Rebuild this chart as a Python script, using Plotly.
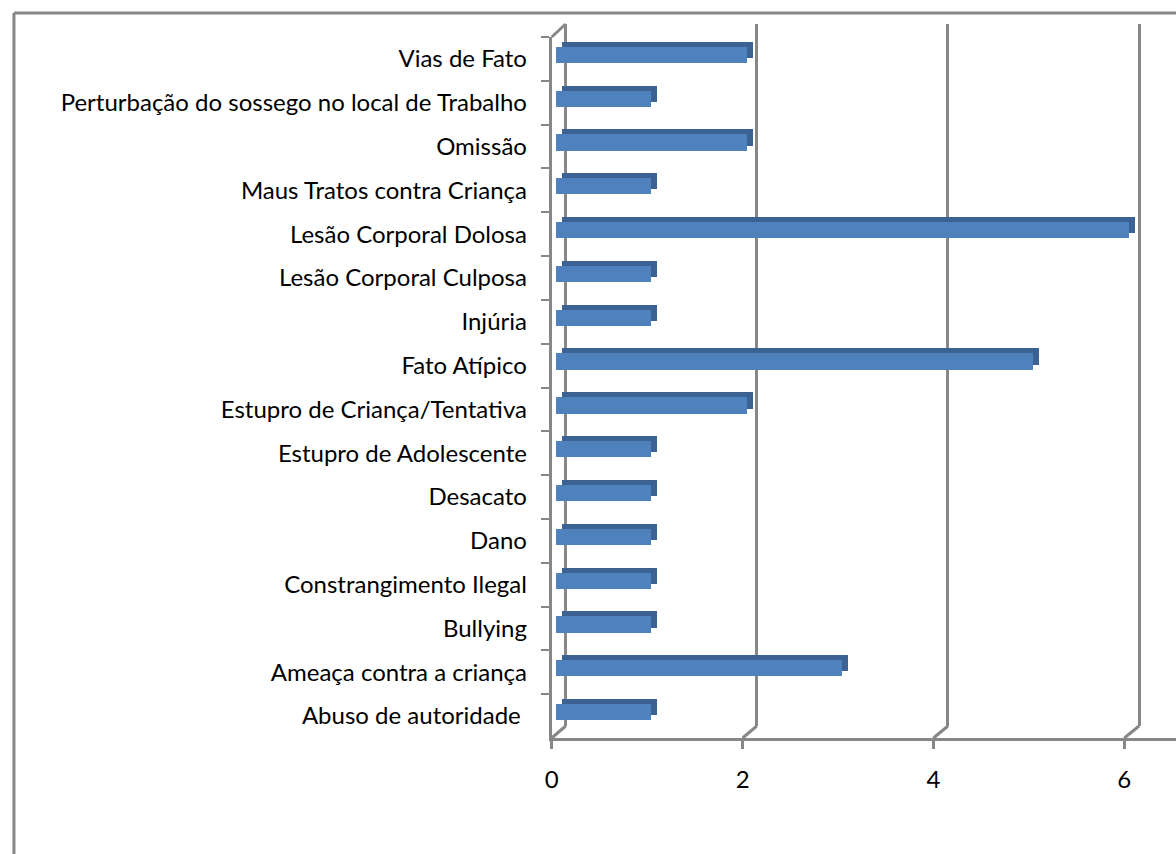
import plotly.graph_objects as go

categories = ["Abuso de autoridade ", "Ameaça contra a criança", "Bullying",
              "Constrangimento Ilegal", "Dano", "Desacato", "Estupro de Adolescente",
              "Estupro de Criança/Tentativa", "Fato Atípico", "Injúria",
              "Lesão Corporal Culposa", "Lesão Corporal Dolosa",
              "Maus Tratos contra Criança", "Omissão",
              "Perturbação do sossego no local de Trabalho", "Vias de Fato"]
values = [1, 3, 1, 1, 1, 1, 1, 2, 5, 1, 1, 6, 1, 2, 1, 2]
x_ticks = [0, 2, 4, 6]

W, H = 1176, 854
def px(x): return x / W
def py(y): return 1 - y / H

UNIT = 96.0          # pixels per value unit
GRID = "#878787"
FONT = dict(family="Lato", size=24, color="black")
n = len(categories)

fig = go.Figure()

# back wall (gridlines)
bw_x0 = 562
fig.add_trace(go.Scatter(x=[0], y=[0], xaxis="x", yaxis="y", opacity=0,
                         showlegend=False, hoverinfo="skip"))
# bar shadow (top + side faces)
fig.add_trace(go.Bar(y=categories, x=values, orientation="h", xaxis="x2", yaxis="y2",
                     marker=dict(color="#3b6293", line=dict(width=0)), width=0.37,
                     showlegend=False, hoverinfo="skip"))
# bar front faces
fig.add_trace(go.Bar(y=categories, x=values, orientation="h", xaxis="x3", yaxis="y3",
                     marker=dict(color="#4f81bd", line=dict(width=0)), width=0.37,
                     showlegend=False))
# front axes
fig.add_trace(go.Scatter(y=categories, x=[0] * n, xaxis="x4", yaxis="y4", opacity=0,
                         mode="markers", showlegend=False, hoverinfo="skip"))

pad = 0.1
common_hidden = dict(showgrid=False, zeroline=False, showticklabels=False, showline=False,
                     ticks="", fixedrange=True)

layout = dict(
    width=W, height=H, margin=dict(l=0, r=0, t=0, b=0),
    paper_bgcolor="white", plot_bgcolor="rgba(0,0,0,0)",
    bargap=0, showlegend=False,
    xaxis=dict(domain=[px(bw_x0 - pad * 96.15), 1], range=[-pad, (W - bw_x0) / 96.15],
               showgrid=True, gridcolor=GRID, gridwidth=3, tickvals=x_ticks,
               zeroline=False, showticklabels=False, showline=False, ticks=""),
    yaxis=dict(domain=[py(726), py(24)], range=[0, 1], **common_hidden),
    xaxis2=dict(domain=[px(558), 1], range=[0, (W - 558) / UNIT], anchor="y2", **common_hidden),
    yaxis2=dict(domain=[py(729), py(28)], range=[-0.5, n - 0.5], anchor="x2",
                categoryorder="array", categoryarray=categories, type="category", **common_hidden),
    xaxis3=dict(domain=[px(552), 1], range=[0, (W - 552) / UNIT], anchor="y3", **common_hidden),
    yaxis3=dict(domain=[py(734), py(33)], range=[-0.5, n - 0.5], anchor="x3",
                categoryorder="array", categoryarray=categories, type="category", **common_hidden),
    xaxis4=dict(domain=[px(548), 1], range=[0, (W - 548) / UNIT], anchor="y4",
                showgrid=False, zeroline=False, showline=True, linecolor=GRID, linewidth=3,
                ticks="outside", ticklen=8, tickwidth=3, tickcolor=GRID,
                tickvals=x_ticks, ticktext=[str(v) for v in x_ticks], tickfont=FONT,
                ticklabelstandoff=10, fixedrange=True),
    yaxis4=dict(domain=[py(738), py(37)], range=[-0.5, n - 0.5], anchor="x4",
                categoryorder="array", categoryarray=categories, type="category",
                showgrid=False, zeroline=False, showline=True, linecolor=GRID, linewidth=3,
                ticks="outside", ticklen=8, tickwidth=2, tickcolor=GRID,
                tickson="boundaries", tickfont=FONT, ticklabelstandoff=17, fixedrange=True),
)
fig.update_layout(**layout)

shapes = []
# floor diagonals from front ticks to back gridlines
for v in x_ticks:
    fx = 548 + v * UNIT
    bx = bw_x0 + v * 96.15
    shapes.append(dict(type="line", xref="paper", yref="paper",
                       x0=px(fx), y0=py(738), x1=px(bx), y1=py(726),
                       line=dict(color=GRID, width=3)))
# top-left diagonal
shapes.append(dict(type="line", xref="paper", yref="paper",
                   x0=px(548), y0=py(37), x1=px(bw_x0), y1=py(24),
                   line=dict(color=GRID, width=3)))
# outer frame (left and top)
shapes.append(dict(type="line", xref="paper", yref="paper",
                   x0=px(7), y0=py(13), x1=px(7), y1=0, line=dict(color=GRID, width=3)))
shapes.append(dict(type="line", xref="paper", yref="paper",
                   x0=px(7), y0=py(13), x1=1, y1=py(13), line=dict(color=GRID, width=3)))
fig.update_layout(shapes=shapes)

fig.write_html("out.html")
